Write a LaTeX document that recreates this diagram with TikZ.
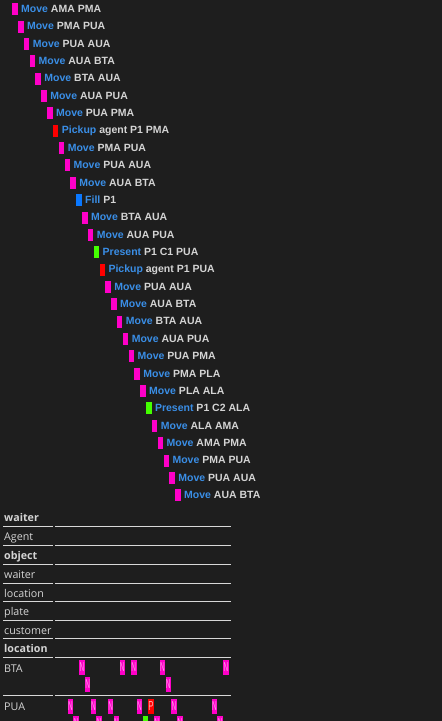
\documentclass[tikz,border=0pt]{standalone}
\usepackage{fontspec}
\setmainfont{Liberation Sans}
\newfontfamily\tablefont{Open Sans}
\definecolor{bg}{HTML}{1E1E1E}
\definecolor{mv}{HTML}{FF00C8}
\definecolor{pk}{HTML}{FF0000}
\definecolor{fl}{HTML}{0A78FF}
\definecolor{pr}{HTML}{44FF00}
\definecolor{kw}{HTML}{3A8EE6}
\definecolor{tx}{HTML}{D4D4D4}
\definecolor{rulec}{HTML}{D8D8D8}
\begin{document}
\begin{tikzpicture}[x=1pt,y=-1pt,
  bar/.style={inner sep=0, minimum width=5.5, minimum height=12, anchor=west},
  act/.style={anchor=base west, inner sep=0, font=\fontsize{10.5}{12}\selectfont\bfseries, text=tx},
  badge/.style={inner sep=0, minimum width=5.5, minimum height=14.5, anchor=north west,
    font=\fontsize{13}{13}\selectfont},
  lbl/.style={anchor=base west, inner sep=0, font=\tablefont\fontsize{10.7}{12}\selectfont, text=tx},
  hdr/.style={lbl, font=\tablefont\fontsize{10.7}{12}\selectfont\bfseries},
  rowrule/.style={draw=rulec, line width=1pt}]
\fill[bg] (0,0) rectangle (442,721);
\clip (0,0) rectangle (442,721);

% plan steps: colour bar, keyword and arguments, indented one step per line
\foreach \i/\c/\k/\a in {
  0/mv/Move/AMA PMA, 1/mv/Move/PMA PUA, 2/mv/Move/PUA AUA, 3/mv/Move/AUA BTA,
  4/mv/Move/BTA AUA, 5/mv/Move/AUA PUA, 6/mv/Move/PUA PMA, 7/pk/Pickup/agent P1 PMA,
  8/mv/Move/PMA PUA, 9/mv/Move/PUA AUA, 10/mv/Move/AUA BTA, 11/fl/Fill/P1,
  12/mv/Move/BTA AUA, 13/mv/Move/AUA PUA, 14/pr/Present/P1 C1 PUA, 15/pk/Pickup/agent P1 PUA,
  16/mv/Move/PUA AUA, 17/mv/Move/AUA BTA, 18/mv/Move/BTA AUA, 19/mv/Move/AUA PUA,
  20/mv/Move/PUA PMA, 21/mv/Move/PMA PLA, 22/mv/Move/PLA ALA, 23/pr/Present/P1 C2 ALA,
  24/mv/Move/ALA AMA, 25/mv/Move/AMA PMA, 26/mv/Move/PMA PUA, 27/mv/Move/PUA AUA,
  28/mv/Move/AUA BTA} {
  \pgfmathsetmacro\bx{12+5.82*\i}
  \pgfmathsetmacro\by{9.2+17.36*\i}
  \node[bar, fill=\c] (r\i) at (\bx,\by) {};
  \node[act] (t\i) at (\bx+9,\by+3.25) {\textcolor{kw}{\k} \a};
}

% table rules
\foreach \y in {526,545,564,583,601.5,620,638.5,657.3,695} {
  \draw[rowrule] (3,\y) -- (53,\y);
  \draw[rowrule] (55,\y) -- (231,\y);
}

% table labels
\node[hdr] (l1) at (4,521.5) {waiter};
\node[lbl] (l2) at (4,540.8) {Agent};
\node[hdr] (l3) at (4,559.5) {object};
\node[lbl] (l4) at (4,578.5) {waiter};
\node[lbl] (l5) at (4,597) {location};
\node[lbl] (l6) at (4,615.5) {plate};
\node[lbl] (l7) at (4,634) {customer};
\node[hdr] (l8) at (4,652.8) {location};
\node[lbl] (l9) at (4,672.5) {BTA};
\node[lbl] (l10) at (4,710.5) {PUA};

% timeline badges for location BTA
\foreach \i/\r in {3/0, 4/1, 10/0, 12/0, 17/0, 18/1, 28/0} {
  \node[badge, fill=mv, text=white!62!mv] (bta\i) at (61.7+5.76*\i, 660+17*\r)
    {\scalebox{0.5}[1]{N}};
}

% timeline badges for location PUA
\foreach \i/\r in {1/0, 2/1, 5/0, 6/1, 8/0, 9/1, 13/0, 16/1, 19/0, 20/1, 26/0, 27/1} {
  \node[badge, fill=mv, text=white!62!mv] (pua\i) at (61.7+5.76*\i, 699+17*\r)
    {\scalebox{0.5}[1]{N}};
}
\node[badge, fill=pr] (pua14) at (61.7+5.76*14, 699+17) {};
\node[badge, fill=pk, text=white!70!pk] (pua15) at (61.7+5.76*15, 699)
  {\scalebox{0.6}[1]{P}};
\end{tikzpicture}
\end{document}
